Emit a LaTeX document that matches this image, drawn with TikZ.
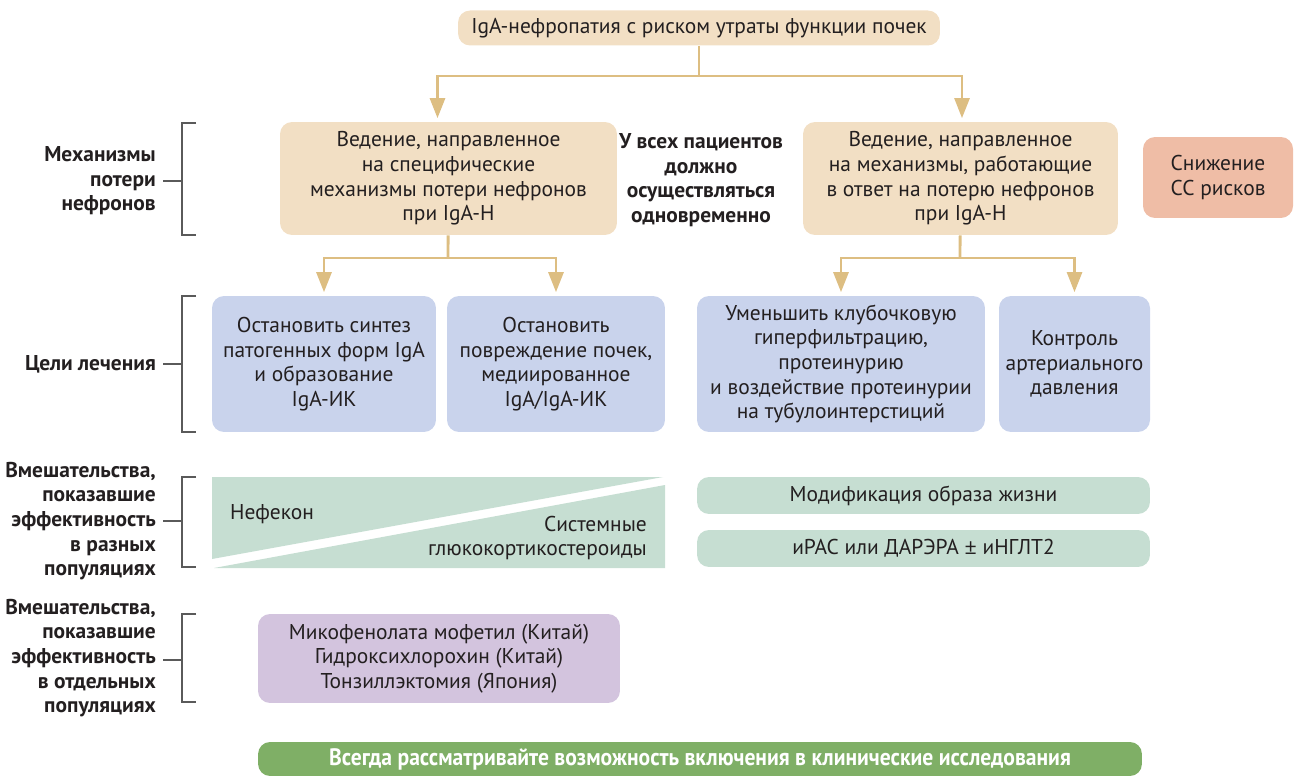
\documentclass[tikz,border=0pt]{standalone}
\usepackage{fontspec}
\setmainfont{PT Sans}
\newfontfamily\barfont[FakeStretch=0.91]{PT Sans}
\newfontfamily\symfont{Open Sans}
\usetikzlibrary{arrows.meta,positioning}
\definecolor{ink}{RGB}{35,31,32}
\definecolor{beige}{RGB}{242,223,196}
\definecolor{arrowc}{RGB}{221,190,130}
\definecolor{riskred}{RGB}{239,189,166}
\definecolor{goalblue}{RGB}{201,211,236}
\definecolor{mint}{RGB}{198,222,210}
\definecolor{lilac}{RGB}{211,196,222}
\definecolor{bargreen}{RGB}{127,175,102}
\definecolor{brkgrey}{RGB}{90,90,90}
\newcommand{\bodysize}{\fontsize{12.2}{14}\selectfont}
\tikzset{
  box/.style={rounded corners=0.24cm, inner sep=2pt, align=center,
              text=ink, font=\bodysize},
  rootbox/.style={box, fill=beige, minimum width=9.64cm, minimum height=0.7cm},
  mech/.style={box, fill=beige, minimum height=2.26cm},
  goal/.style={box, fill=goalblue, minimum height=2.72cm},
  wide/.style={box, fill=mint, minimum width=9.06cm, minimum height=0.74cm},
  flow/.style={-{Triangle[width=0.3cm,length=0.4cm]}, draw=arrowc,
               line width=1.6pt, shorten >=2pt},
  link/.style={draw=arrowc, line width=1.6pt},
  brk/.style={draw=brkgrey, line width=0.8pt},
  side/.style={font=\bodysize\bfseries, align=right, anchor=east, text=ink},
}
\begin{document}
\begin{tikzpicture}[x=0.02cm, y=-0.02cm]
  \useasboundingbox (0,0) rectangle (1300,776);

  % top level
  \node[rootbox] (root) at (699,28) {IgA-нефропатия с риском утраты функции почек};
  \node[mech, minimum width=6.74cm] (lmech) at (448.5,178.5)
    {Ведение, направленное\\на специфические\\механизмы потери нефронов\\при IgA-Н};
  \node[mech, minimum width=6.3cm] (rmech) at (960.5,178.5)
    {Ведение, направленное\\на механизмы, работающие\\в ответ на потерю нефронов\\при IgA-Н};
  \node[font=\bodysize\bfseries, align=center, text=ink] (all) at (701,180)
    {У всех пациентов\\должно\\осуществляться\\одновременно};
  \node[box, fill=riskred, minimum width=3cm, minimum height=1.62cm] (cv) at (1218,177.5)
    {Снижение\\СС рисков};

  % goals
  \node[goal, minimum width=4.48cm] (g1) at (324,364)
    {Остановить синтез\\патогенных форм IgA\\и образование\\IgA-ИК};
  \node[goal, minimum width=4.36cm] (g2) at (556,364)
    {Остановить\\повреждение почек,\\медиированное\\IgA/IgA-ИК};
  \node[goal, minimum width=5.76cm] (g3) at (841,364)
    {Уменьшить клубочковую\\гиперфильтрацию,\\протеинурию\\и воздействие протеинурии\\на тубулоинтерстиций};
  \node[goal, minimum width=3.02cm] (g4) at (1074.5,364)
    {Контроль\\артериального\\давления};

  % interventions, all populations
  \fill[mint] (212,477) -- (663,477) -- (212,559) -- cycle;
  \fill[mint] (665,485) -- (665,568) -- (214,568) -- cycle;
  \node[font=\bodysize, text=ink, anchor=west] (nef) at (224,514) {Нефекон};
  \node[font=\bodysize, text=ink, align=right, anchor=east] (gcs) at (653,538)
    {Системные\\глюкокортикостероиды};
  \node[wide] (life) at (923.5,495.5) {Модификация образа жизни};
  \node[wide] (ras) at (923.5,548.5) {иРАС или ДАРЭРА {\symfont ±} иНГЛТ2};

  % interventions, some populations
  \node[box, fill=lilac, minimum width=7.24cm, minimum height=1.78cm] (local) at (439,658.5)
    {Микофенолата мофетил (Китай)\\Гидроксихлорохин (Китай)\\Тонзиллэктомия (Япония)};
  \node[box, fill=bargreen, text=white, minimum width=17.68cm, minimum height=0.68cm,
        font=\barfont\fontsize{13.5}{15}\selectfont\bfseries] (trial) at (700,759)
    {Всегда рассматривайте возможность включения в клинические исследования};

  % connectors
  \coordinate (j0) at (699,76);
  \coordinate (j1) at (448,258);
  \coordinate (j2) at (960,258);
  \draw[link] (root) -- (j0);
  \draw[flow] (j0) -| ([xshift=-0.22cm]lmech.north);
  \draw[flow] (j0) -| ([xshift=0.03cm]rmech.north);
  \draw[link] (lmech) -- (j1);
  \draw[flow] (j1) -| (g1);
  \draw[flow] (j1) -| (g2);
  \draw[link] (rmech) -- (j2);
  \draw[flow] (j2) -| (g3);
  \draw[flow] (j2) -| (g4);

  % brackets on the left
  \foreach \t/\b/\m in {123/235/181, 296/432/364, 477/567/521, 614/702/660} {
    \draw[brk] (196,\t) -| (182,\b) -- (196,\b);
    \draw[brk] (163,\m) -- (182,\m);
  }
  \node[side] (s1) at (162,181) {Механизмы\\потери\\нефронов};
  \node[side] (s2) at (162,364) {Цели лечения};
  \node[side] (s3) at (162,521) {Вмешательства,\\показавшие\\эффективность\\в разных\\популяциях};
  \node[side] (s4) at (162,658) {Вмешательства,\\показавшие\\эффективность\\в отдельных\\популяциях};
\end{tikzpicture}
\end{document}
